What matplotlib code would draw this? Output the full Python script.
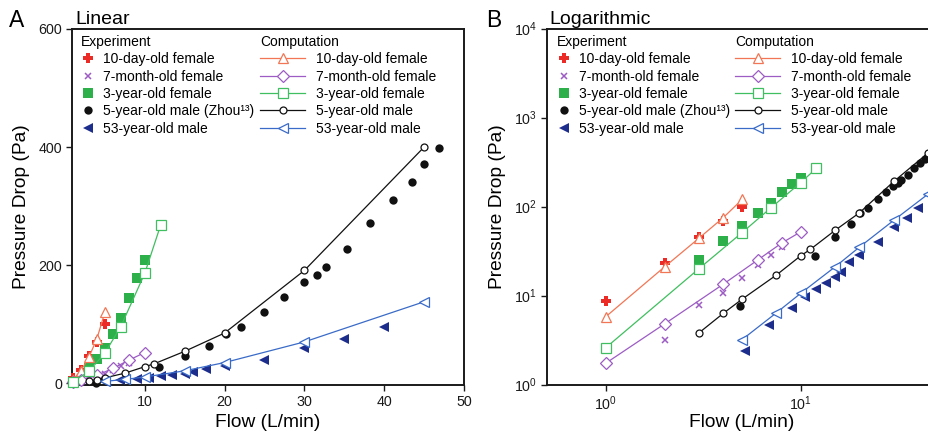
import matplotlib
matplotlib.use("Agg")
import matplotlib.pyplot as plt
from matplotlib.lines import Line2D
from matplotlib.ticker import LogLocator, NullLocator, FixedLocator

plt.rcParams['font.family'] = ['Liberation Sans', 'DejaVu Sans']
plt.rcParams['mathtext.default'] = 'regular'

# ---- Experimental data (flow in L/min, pressure drop in Pa) ----
exp_10d_flow = [1, 2, 3, 4, 5]
exp_10d_dp = [8.7, 23, 46, 69, 100]

exp_7m_flow = [2, 3, 4, 5, 6, 7, 8]
exp_7m_dp = [3.2, 7.9, 10.8, 15.7, 22, 28.7, 35]

exp_3y_flow = [3, 4, 5, 6, 7, 8, 9, 10]
exp_3y_dp = [25, 41, 60, 84, 110, 144, 178, 208]

exp_5y_flow = [3.9, 4.9, 11.8, 15, 18.1, 20.2, 22, 25, 27.5, 29.9, 31.6, 32.7,
               35.3, 38.2, 41.1, 43.5, 45, 46.9]
exp_5y_dp = [0.8, 7.7, 28, 46, 63, 84, 95, 120, 146, 171, 184, 197,
             227, 272, 310, 340, 372, 398]

exp_53y_flow = [5.2, 6.9, 9, 10.5, 12, 13.4, 15, 16, 17.7, 20, 25, 30, 35, 40]
exp_53y_dp = [2.4, 4.7, 7.2, 9.7, 11.8, 13.8, 16.3, 18.6, 23.5, 28.7, 40, 59, 75, 96]

# ---- Computational results ----
cmp_10d_flow = [1, 2, 3, 4, 5]
cmp_10d_dp = [5.8, 21, 44, 75, 120]

cmp_7m_flow = [1, 2, 4, 6, 8, 10]
cmp_7m_dp = [1.74, 4.8, 13.4, 25, 39, 52]

cmp_3y_flow = [1, 3, 5, 7, 10, 12]
cmp_3y_dp = [2.6, 20, 51, 96, 186, 268]

cmp_5y_flow = [3, 4, 5, 7.5, 10, 11.2, 15, 20, 30, 45]
cmp_5y_dp = [3.8, 6.3, 9.1, 17, 28, 33, 54, 85, 191, 400]

cmp_53y_flow = [5, 7.5, 10, 15, 20, 30, 45]
cmp_53y_dp = [3.2, 6.4, 10.6, 21, 35, 70, 138]

exp_labels = ['10-day-old female', '7-month-old female', '3-year-old female',
              '5-year-old male (Zhou\u00b9\u00b3)', '53-year-old male']
cmp_labels = ['10-day-old female', '7-month-old female', '3-year-old female',
              '5-year-old male', '53-year-old male']

C_RED = '#ec2a26'
C_ORANGE = '#f27655'
C_PURPLE = '#9c5cc4'
C_GREEN = '#2daf4a'
C_LGREEN = '#3fbf5f'
C_BLACK = '#111111'
C_NAVY = '#1c2d8c'
C_BLUE = '#3a6bc8'

exp_series = [
    (exp_10d_flow, exp_10d_dp, dict(marker='P', color=C_RED, ms=6.8, mew=0)),
    (exp_7m_flow, exp_7m_dp, dict(marker='x', color=C_PURPLE, ms=4.5, mew=1.1)),
    (exp_3y_flow, exp_3y_dp, dict(marker='s', color=C_GREEN, ms=6.5, mew=0)),
    (exp_5y_flow, exp_5y_dp, dict(marker='o', color=C_BLACK, ms=6.0, mew=0)),
    (exp_53y_flow, exp_53y_dp, dict(marker='<', color=C_NAVY, ms=7.8, mew=0)),
]
cmp_series = [
    (cmp_10d_flow, cmp_10d_dp, dict(marker='^', color=C_ORANGE, ms=6.5)),
    (cmp_7m_flow, cmp_7m_dp, dict(marker='D', color=C_PURPLE, ms=5.8)),
    (cmp_3y_flow, cmp_3y_dp, dict(marker='s', color=C_LGREEN, ms=6.5)),
    (cmp_5y_flow, cmp_5y_dp, dict(marker='o', color=C_BLACK, ms=5.0)),
    (cmp_53y_flow, cmp_53y_dp, dict(marker='<', color=C_BLUE, ms=7.0)),
]

fig = plt.figure(figsize=(9.29, 4.34), dpi=100)
W, H = 929.0, 434.0
ax1 = fig.add_axes([71.7 / W, 1 - 385 / H, (464 - 71.7) / W, (385 - 29) / H])
ax2 = fig.add_axes([547.3 / W, 1 - 384.5 / H, (937 - 547.3) / W, (384.5 - 28.5) / H])


def draw(ax, clip):
    for x, y, st in exp_series:
        ax.plot(x, y, linestyle='none', marker=st['marker'], color=st['color'],
                markersize=st['ms'], markeredgewidth=st['mew'],
                markeredgecolor=st['color'], zorder=3, clip_on=clip)
    for x, y, st in cmp_series:
        ax.plot(x, y, linestyle='-', linewidth=0.9, color=st['color'],
                marker=st['marker'], markersize=st['ms'],
                markerfacecolor='white', markeredgecolor=st['color'],
                markeredgewidth=0.9, zorder=4, clip_on=clip)


def style(ax, xpad):
    for s in ax.spines.values():
        s.set_linewidth(1.4)
        s.set_color('#1a1a1a')
    ax.tick_params(direction='out', length=4, width=1.0, labelsize=10.3,
                   pad=3, colors='#1a1a1a', top=False, right=False)
    ax.set_xlabel('Flow (L/min)', fontsize=13.8, labelpad=xpad)
    ax.set_ylabel('Pressure Drop (Pa)', fontsize=13.8, labelpad=6)


def legends(ax, x_exp, x_cmp, y_top):
    fs = 10
    h_exp = [Line2D([], [], linestyle='none', marker=st['marker'], color=st['color'],
                    markersize=st['ms'], markeredgewidth=st['mew'])
             for _, _, st in exp_series]
    h_cmp = [Line2D([], [], linestyle='-', linewidth=0.9, color=st['color'],
                    marker=st['marker'], markersize=st['ms'], markerfacecolor='white',
                    markeredgecolor=st['color'], markeredgewidth=0.9)
             for _, _, st in cmp_series]
    common = dict(loc='upper left', bbox_transform=fig.transFigure, frameon=False,
                  fontsize=fs, title_fontsize=fs, alignment='left', borderpad=0,
                  labelspacing=0.24)
    leg1 = ax.legend(h_exp, exp_labels, title='Experiment',
                     bbox_to_anchor=(x_exp / W, 1 - y_top / H),
                     handlelength=1.0, handletextpad=0.58, **common)
    ax.add_artist(leg1)
    ax.legend(h_cmp, cmp_labels, title='Computation',
              bbox_to_anchor=(x_cmp / W, 1 - y_top / H),
              handlelength=3.25, handletextpad=0.8, **common)


# ---- Panel A: linear axes ----
draw(ax1, False)
style(ax1, 4)
ax1.set_xlim(0.85, 50)
ax1.set_ylim(-3, 600)
ax1.xaxis.set_major_locator(FixedLocator([10, 20, 30, 40, 50]))
ax1.yaxis.set_major_locator(FixedLocator([0, 200, 400, 600]))
legends(ax1, 74, 253, 28)

# ---- Panel B: logarithmic axes ----
draw(ax2, True)
style(ax2, 1)
ax2.set_xscale('log')
ax2.set_yscale('log')
ax2.set_xlim(0.5, 50)
ax2.set_ylim(1, 1e4)
ax2.xaxis.set_major_locator(LogLocator(base=10, numticks=10))
ax2.yaxis.set_major_locator(LogLocator(base=10, numticks=10))
ax2.xaxis.set_minor_locator(NullLocator())
ax2.yaxis.set_minor_locator(NullLocator())
legends(ax2, 550, 728, 28)

# Panel letters and titles
fig.text(9 / W, 1 - 27 / H, 'A', fontsize=16.5, va='baseline', ha='left')
fig.text(75 / W, 1 - 24 / H, 'Linear', fontsize=14, va='baseline', ha='left')
fig.text(486 / W, 1 - 27 / H, 'B', fontsize=16.5, va='baseline', ha='left')
fig.text(549 / W, 1 - 24 / H, 'Logarithmic', fontsize=14, va='baseline', ha='left')

fig.savefig('out.png', dpi=100, facecolor='white')
